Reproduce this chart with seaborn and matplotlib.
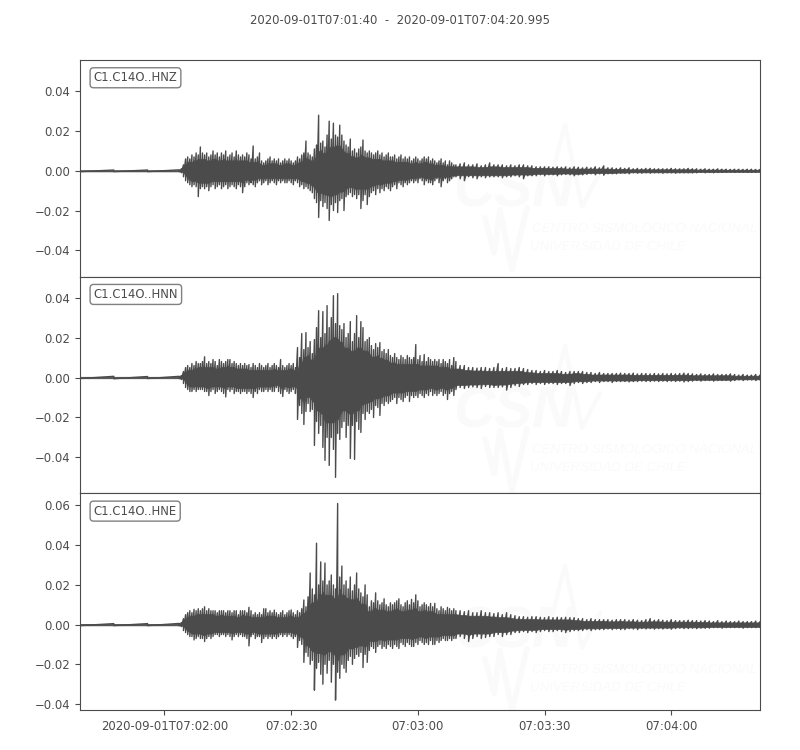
import numpy as np
import pandas as pd
import seaborn as sns
import matplotlib.pyplot as plt

title = "2020-09-01T07:01:40  -  2020-09-01T07:04:20.995"
channels = ["C1.C14O..HNZ", "C1.C14O..HNN", "C1.C14O..HNE"]
x_ticks = [20, 50, 80, 110, 140]
x_labels = ["2020-09-01T07:02:00", "07:02:30", "07:03:00", "07:03:30", "07:04:00"]
y_ticks = [
    [-0.04, -0.02, 0.0, 0.02, 0.04],
    [-0.04, -0.02, 0.0, 0.02, 0.04],
    [-0.04, -0.02, 0.0, 0.02, 0.04, 0.06],
]
y_limits = [(-0.0533, 0.0558), (-0.058, 0.0505), (-0.043, 0.0661)]

# seconds after 07:01:40, envelopes in 0.001 units
seconds = np.concatenate([[0, 8, 16, 23.5], np.arange(24, 89, 0.5), np.arange(89, 162, 1)])

hnz_up = [
    0.4, 0.4, 0.4, 0.5,
    1, 3, 6, 7, 6, 8, 7, 9, 8, 12,
    9, 8, 9, 7, 8, 10, 8, 9, 7, 9,
    8, 10, 7, 8, 9, 7, 10, 8, 7, 8,
    7, 9, 8, 6, 12.5, 6, 7, 9, 5, 4,
    5, 6, 7, 5, 6, 5, 6, 4, 5, 6,
    5, 6, 5, 4, 5, 7, 6, 8, 9, 15,
    9, 8, 7, 11, 13, 28, 14, 15, 12, 18,
    25, 16, 24, 18, 17, 23, 18, 15, 13, 12,
    16, 10, 11, 9, 11, 12, 15.5, 10, 9, 10,
    9, 8, 9, 10, 8, 9, 7, 8, 9, 7,
    7, 8, 6, 7, 8, 6, 7, 6, 7, 5,
    6, 7, 6, 5, 6, 7, 6, 7, 5, 6,
    5, 4, 5, 6, 4, 5, 3, 5, 4, 3,
    3, 3.5, 4, 3, 3, 3.5, 2.5, 3, 4, 3,
    3, 3, 2.5, 3, 2.5, 3, 3, 2.5, 2.5, 2,
    2, 2, 2, 1.8, 2, 1.8, 2, 1.5, 2, 1.8,
    1.5, 1.8, 1.5, 2, 1.5, 2.5, 1.5, 1.5, 1.2, 1.5,
    1.2, 1.5, 1, 1.2, 1, 1.2, 1.2, 1, 1, 1,
    1, 1.2, 1, 1, 1, 1.2, 1, 1, 0.8, 1,
    0.8, 0.8, 1, 0.8, 0.8, 0.7, 0.8, 0.8, 0.7, 0.8,
    0.8, 0.7, 0.7,
]
hnz_lo = [
    -0.4, -0.4, -0.4, -0.5,
    -1, -3, -5, -6, -7, -8, -7, -8, -13, -9,
    -8, -9, -8, -10, -8, -7, -9, -8, -7, -9,
    -8, -7, -9, -8, -7, -8, -9, -7, -8, -11,
    -8, -6, -7, -6, -7, -8, -6, -5, -7, -6,
    -5, -7, -6, -5, -6, -7, -5, -6, -5, -6,
    -6, -5, -6, -7, -5, -6, -8, -7, -9, -8,
    -9, -10, -11, -14, -16, -23.5, -15, -18, -16, -19,
    -25, -17, -20, -16, -21, -15, -14, -20, -13, -12,
    -11, -13, -12, -14, -12, -19, -15, -12, -17, -13,
    -11, -10, -12, -9, -11, -9, -10, -8, -9, -10,
    -8, -7, -9, -6, -7, -8, -6, -7, -6, -5,
    -6, -5, -6, -4, -5, -7, -5, -6, -6, -7,
    -5, -4, -6, -8, -5, -4, -6, -5, -4, -3,
    -3, -4, -5, -3, -3.5, -4, -3, -3.5, -3, -3,
    -3, -3.5, -3, -3, -2.5, -3, -4, -2.5, -2.5, -2.5,
    -2, -2.5, -2, -2, -2.5, -2, -1.8, -2, -2.5, -2,
    -2, -1.8, -1.5, -2, -1.5, -2.2, -1.5, -1.5, -1.5, -1.2,
    -1.2, -1.5, -1, -1.2, -1.2, -1, -1.2, -1, -1, -1.2,
    -1, -1, -1.2, -1, -1, -1, -1, -1, -0.8, -1,
    -0.8, -1, -0.8, -0.8, -0.8, -0.7, -0.8, -0.7, -0.8, -0.8,
    -0.8, -0.7, -0.7,
]
hnn_up = [
    0.5, 0.6, 0.5, 0.6,
    1, 3, 5, 6, 5, 7, 6, 8, 7, 7,
    8, 10.4, 7, 8, 7, 9, 8, 6, 9, 8,
    7, 8, 9, 9, 7, 8, 7, 6, 7, 6,
    7, 6, 6.5, 5, 7, 6, 5, 7, 6, 5,
    6, 7, 5, 6, 7, 6, 5, 9, 6, 5,
    6, 7, 6, 7, 5, 15, 10, 22, 14, 22.5,
    15, 18, 12, 19, 25, 33.5, 20, 33, 22, 36,
    25, 30, 41, 27, 42, 26, 24, 27, 20, 22,
    28, 18, 22, 31, 20, 28, 25, 18, 19, 20,
    16, 14, 17, 15, 17.5, 13, 14, 12, 14, 11,
    10, 12, 10, 9, 11, 10, 9, 11, 10, 9,
    10, 16.5, 9, 11, 8, 11.5, 8, 10, 9, 8,
    9, 8, 9, 7, 9, 8, 7, 9, 6, 10,
    8, 6, 6, 5, 5, 4.7, 5, 5, 4.5, 5,
    7, 4.5, 5, 4.5, 4.5, 5, 4.5, 4, 3.5, 3.5,
    3, 3.5, 3, 3, 3.5, 3, 2.5, 3, 3, 3,
    3, 2.5, 2.5, 2, 2.5, 2, 2, 2, 2, 2.2,
    2, 2, 2.2, 1.8, 2, 2, 1.8, 2, 1.8, 2,
    1.8, 2, 1.8, 2, 2.2, 2, 1.8, 1.5, 1.8, 1.5,
    1.5, 1.8, 1.5, 1.5, 1.5, 1.8, 1.5, 1.2, 1.5, 1.2,
    1.2, 1.5, 1.2,
]
hnn_lo = [
    -0.5, -0.6, -0.5, -0.6,
    -1, -3, -5, -6, -7, -7, -6, -7, -6, -6,
    -6, -7, -7, -9, -7, -6, -8, -7, -6, -7,
    -8, -9.7, -6, -7, -6, -8, -7, -7, -8, -7,
    -7, -8, -7, -8, -10, -7, -8, -6, -7, -7,
    -6, -7, -6, -7, -7, -5, -7, -8, -9.5, -6,
    -7, -8, -7, -6, -8, -21, -14, -18, -23.5, -17,
    -13, -17, -16, -34, -22, -28, -24, -35, -41.5, -30,
    -44, -30, -36, -50, -28, -31, -25, -22, -30, -24,
    -40.5, -24, -41, -22, -26, -27.5, -18, -21, -17, -18,
    -16, -20, -14, -15, -19, -13, -14, -12, -13, -12,
    -11, -10, -13, -10, -11, -12, -10, -9, -12, -9,
    -10, -9, -10, -8, -9, -10, -8, -9, -7, -9,
    -8, -9, -8, -7, -9, -8, -11, -8, -7, -9,
    -6, -5, -5.5, -5, -4.7, -5, -5.5, -4.5, -5, -5,
    -5, -4.7, -6.3, -5, -4, -4.5, -3.5, -3.5, -3, -3.5,
    -3, -3.5, -3, -3, -3.5, -3, -3, -4, -3, -2.5,
    -3, -2.5, -2.5, -2, -2.5, -2, -2, -2.5, -2, -2,
    -2, -2.2, -2, -2, -1.8, -2, -2, -1.8, -2, -1.8,
    -2, -1.8, -2, -1.8, -2.2, -2, -1.8, -1.5, -1.8, -1.5,
    -1.5, -1.8, -1.5, -1.5, -1.5, -1.8, -1.5, -1.2, -1.5, -1.2,
    -1.2, -1.5, -1.2,
]
hne_up = [
    0.5, 0.5, 0.5, 0.6,
    1, 3, 5, 6, 7, 6, 7.7, 7, 8, 7,
    8, 9, 7, 8, 7, 7, 7, 6, 7, 7,
    7, 6, 7, 7, 6, 7, 7, 5, 7, 7,
    7, 6, 8.7, 7, 5, 6, 5, 6, 5, 8,
    8, 6, 7, 6, 7.3, 6, 5, 6, 7, 5,
    6, 7, 7.4, 6, 5, 7, 6, 8, 12.4, 9,
    14, 26, 18, 15, 41, 20, 31.6, 22, 31, 20,
    22, 25, 20, 18, 61, 24, 29.5, 20, 22, 18,
    24, 17, 20, 26, 18, 16, 14, 20, 15, 9,
    12, 11, 16, 12, 10, 11, 13, 10, 9, 11,
    10, 11, 12, 13, 10, 9, 11, 12, 10, 12.7,
    11, 15, 12, 9, 10, 11, 10, 9, 10.7, 9,
    10.7, 8, 7, 9, 8, 7, 8.7, 8, 7, 8,
    7, 7, 6.5, 7, 6, 6, 7, 6, 6, 5.5,
    6, 5, 6, 5, 4.5, 4, 4, 3.7, 4, 4,
    3.7, 3.5, 4, 3.5, 3.7, 3.5, 3.7, 3.5, 3.5, 3,
    3, 2.5, 3, 2.5, 2.5, 2.5, 2.5, 2.2, 2.5, 2.5,
    2.5, 2.2, 2.5, 2.2, 2, 2.5, 3, 2.2, 2.5, 2.2,
    2, 2.5, 2, 2, 2, 2.2, 2, 2, 1.8, 2,
    1.8, 1.5, 2, 1.5, 1.8, 1.5, 1.5, 1.8, 1.5, 1.5,
    1.5, 1.8, 1.5,
]
hne_lo = [
    -0.5, -0.5, -0.5, -0.6,
    -1, -3, -4, -5, -6, -6, -7.7, -7, -6, -7,
    -7, -8.5, -7, -6, -7, -6, -5, -5, -6, -5,
    -5, -6, -5, -6, -7.7, -6, -5, -6, -5, -6,
    -6, -7, -10.7, -6, -5, -7, -6, -6, -9, -7,
    -6, -7, -6, -7, -6, -7, -6, -5, -6, -5,
    -6, -5, -6, -7, -6, -11.5, -8, -10, -19, -14,
    -16, -20, -18, -33, -22, -19, -25, -30, -20, -24.5,
    -18, -29, -20, -38, -24, -27, -20, -22, -24, -18,
    -16, -20, -17, -15, -16, -14, -21.6, -15, -19, -13,
    -11, -12, -14, -11, -10, -12, -11, -12, -10, -11,
    -12, -10, -11, -12, -9, -10, -11, -9, -10, -11,
    -11, -9, -10, -8, -9, -10, -9, -10, -8, -10,
    -10, -8, -9, -8, -7, -8, -8, -7, -8, -7,
    -7, -6, -7, -8.5, -7, -6, -7, -6.5, -6, -6,
    -5, -6, -5, -5, -4, -4, -3.5, -4, -3.5, -4,
    -3.5, -3, -3.5, -3.5, -3, -3.5, -4, -3.5, -3, -3,
    -3, -2.5, -3, -2.5, -2.5, -2.5, -2.2, -2.5, -2.2, -2.5,
    -2.5, -2, -2.2, -2.5, -2, -2.2, -2, -2.3, -2, -2.2,
    -2, -2.3, -2, -1.8, -2, -2, -1.8, -2, -1.8, -1.8,
    -1.8, -1.5, -1.5, -1.8, -1.5, -1.5, -1.5, -1.5, -1.8, -1.5,
    -1.5, -1.5, -1.5,
]

ink = "#4b4b4b"
narrow = ["Liberation Sans Narrow", "Liberation Sans", "DejaVu Sans"]
sns.set_style("ticks")
plt.rcParams["font.family"] = "DejaVu Sans"
plt.rcParams["font.size"] = 8.4
plt.rcParams["text.color"] = ink
plt.rcParams["axes.edgecolor"] = ink
plt.rcParams["xtick.color"] = ink
plt.rcParams["ytick.color"] = ink


def add_logo(ax, shift):
    # faint watermark, px-like positions as axes fractions
    faint = "#fafafa"
    def fx(px):
        return (px - 80) / 680
    def fy(py):
        return (277 - py) / 217 - shift
    tr = ax.transAxes
    ax.text(fx(453), fy(207), "CSN", transform=tr, color=faint, fontsize=41, fontweight="bold",
            fontstyle="italic", family=narrow, zorder=0)
    peak_x = [552, 565, 582, 600]
    peak_y = [175, 125, 207, 172]
    ax.plot([fx(v) for v in peak_x], [fy(v) for v in peak_y], transform=tr, color=faint, lw=3, zorder=0)
    w_x = [485, 494, 500, 512, 527]
    w_y = [218, 253, 210, 270, 208]
    ax.plot([fx(v) for v in w_x], [fy(v) for v in w_y], transform=tr, color=faint, lw=4, zorder=0)
    ax.text(fx(532), fy(232), "CENTRO SISMOLOGICO NACIONAL", transform=tr, color=faint, fontsize=9.5,
            fontstyle="italic", family=narrow, zorder=0)
    ax.text(fx(530), fy(250), "UNIVERSIDAD DE CHILE", transform=tr, color=faint, fontsize=9.5,
            fontstyle="italic", family=narrow, zorder=0)


fig, axes = plt.subplots(3, 1, figsize=(8, 7.5), dpi=100, sharex=True)
fig.subplots_adjust(left=0.1, right=0.95, top=0.92, bottom=0.0533, hspace=0)

uppers = [hnz_up, hnn_up, hne_up]
lowers = [hnz_lo, hnn_lo, hne_lo]
logo_shift = [0.0, 0.02, 0.035]

for i, ax in enumerate(axes):
    up = pd.Series(uppers[i]) / 1000
    lo = pd.Series(lowers[i]) / 1000
    # solid body of the trace: what stays filled between the spikes
    ax.fill_between(seconds, lo.rolling(3, center=True, min_periods=1).max() * 0.75,
                    up.rolling(3, center=True, min_periods=1).min() * 0.75, color=ink, lw=0.5, zorder=2)
    # waveform as a zigzag between the two envelopes
    trace = pd.DataFrame({
        "t": np.repeat(seconds, 2),
        "v": np.column_stack([up, lo]).ravel(),
    })
    sns.lineplot(data=trace, x="t", y="v", estimator=None, sort=False, color=ink, lw=1.0, ax=ax, zorder=2)
    add_logo(ax, logo_shift[i])
    ax.set_xlim(0, 160.995)
    ax.set_ylim(*y_limits[i])
    ax.set_yticks(y_ticks[i])
    ax.set_xlabel(None)
    ax.set_ylabel(None)
    ax.tick_params(axis="both", labelsize=8.4, length=3.5, width=0.8)
    ax.text(0.02, 0.948, channels[i], transform=ax.transAxes, ha="left", va="top", fontsize=8.4, zorder=5,
            bbox=dict(boxstyle="round", fc="white", ec="#808080", lw=1.0))
    ax.tick_params(axis="x", bottom=(i == 2))

axes[2].set_xticks(x_ticks)
axes[2].set_xticklabels(x_labels)
fig.suptitle(title, fontsize=8.4, y=0.973, x=0.5, va="center", color=ink)

plt.savefig("out.png", dpi=100)
